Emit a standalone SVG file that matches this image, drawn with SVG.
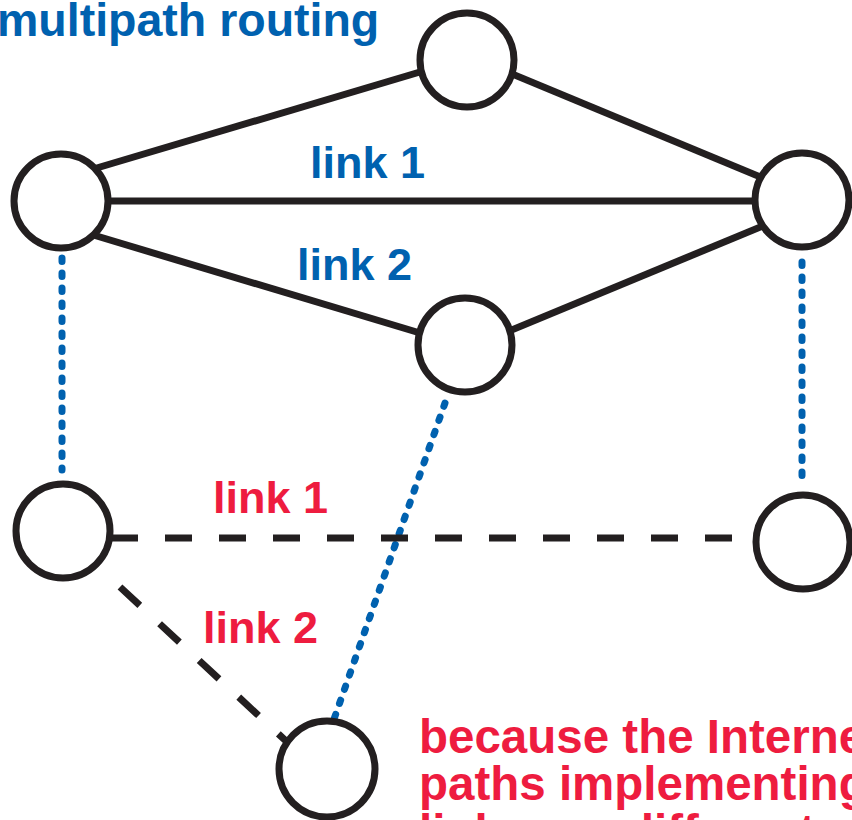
<svg xmlns="http://www.w3.org/2000/svg" width="852" height="820" viewBox="0 0 852 820">
<style>
.node{fill:#fff;stroke:#231F20;stroke-width:7}
.solid{stroke:#231F20;stroke-width:7;fill:none}
.dash{stroke:#231F20;stroke-width:7;fill:none;stroke-dasharray:27 27}
.dot{stroke:#0061AF;stroke-width:7;fill:none;stroke-dasharray:3.5 11.5;stroke-linecap:round}
.t{font-family:"Liberation Sans",Arial,sans-serif;font-weight:bold;font-size:45px}
.big{font-size:47.5px}
.title{font-size:46.5px}
.blue{fill:#0061AF}
.red{fill:#EE1C3F}
</style>
<rect width="852" height="820" fill="#fff"/>
<g id="connectors">
<line class="solid" x1="90" y1="170" x2="430" y2="69"/>
<line class="solid" x1="505" y1="71" x2="770" y2="181"/>
<line class="solid" x1="100" y1="201" x2="765" y2="201"/>
<line class="solid" x1="90" y1="234" x2="430" y2="336"/>
<line class="solid" x1="502" y1="334" x2="770" y2="223"/>
<line class="dot" x1="62" y1="258" x2="62" y2="470"/>
<line class="dot" x1="802" y1="262" x2="802" y2="482"/>
<line class="dot" x1="445" y1="403" x2="333" y2="722"/>
<line class="dash" x1="111" y1="538" x2="760" y2="538"/>
<line class="dash" x1="120" y1="587" x2="300" y2="754"/>
</g>
<g id="n-top"><circle class="node" cx="467" cy="60" r="47"/></g>
<g id="n-left"><circle class="node" cx="61" cy="201" r="47"/></g>
<g id="n-right"><circle class="node" cx="802" cy="200" r="47"/></g>
<g id="n-mid"><circle class="node" cx="465" cy="345" r="47"/></g>
<g id="n-bl"><circle class="node" cx="63" cy="531" r="47"/></g>
<g id="n-br"><circle class="node" cx="803" cy="542" r="47"/></g>
<g id="n-bottom"><circle class="node" cx="327" cy="769" r="48"/></g>
<g id="labels">
<text class="t blue title" x="-3" y="36">multipath routing</text>
<text class="t blue" x="310" y="178">link 1</text>
<text class="t blue" x="297" y="280">link 2</text>
<text class="t red" x="213" y="513">link 1</text>
<text class="t red" x="203" y="643">link 2</text>
<text class="t red big" x="419" y="753">because the Internet</text>
<text class="t red big" x="419" y="800">paths implementing</text>
<text class="t red big" x="419" y="848">links are different</text>
</g>
</svg>
